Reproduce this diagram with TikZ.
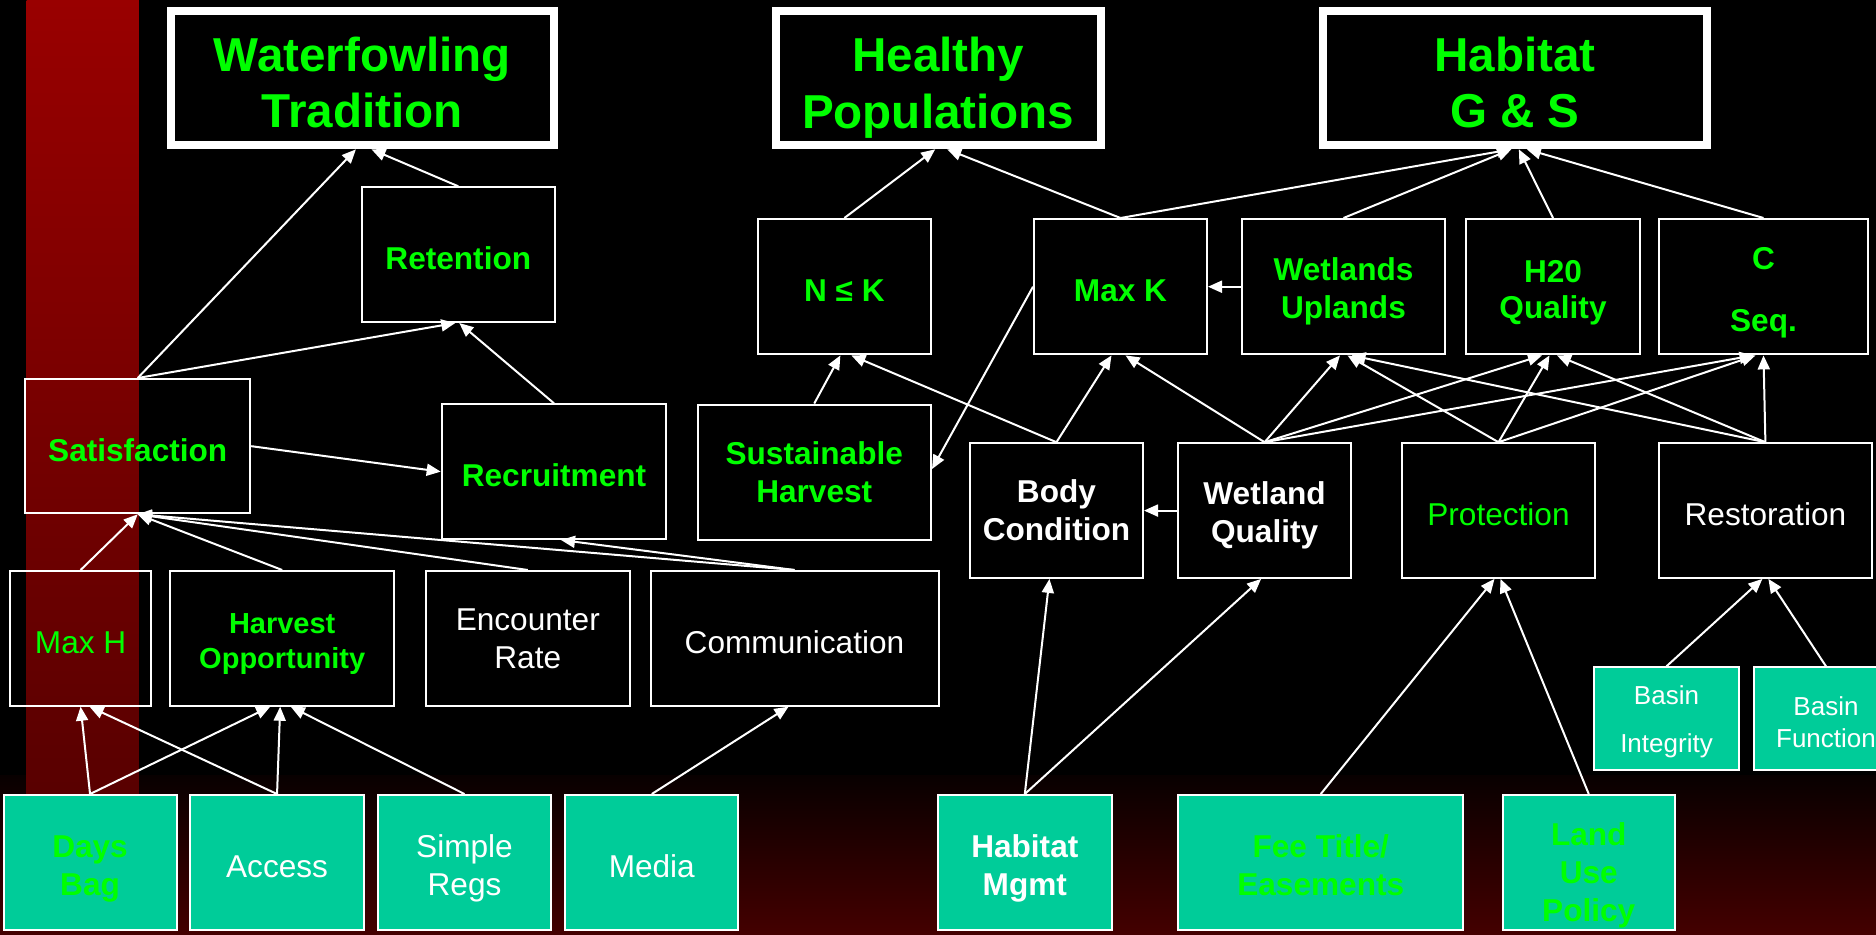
\documentclass[tikz,border=0pt]{standalone}
\usepackage{fontspec}
\setmainfont{Liberation Sans}
\usetikzlibrary{calc,arrows.meta}
\definecolor{grn}{HTML}{00FF00}
\definecolor{tealbox}{HTML}{00CC99}
\definecolor{stripetop}{HTML}{990000}
\definecolor{stripebot}{HTML}{580000}
\definecolor{bandtop}{HTML}{080000}
\definecolor{bandbot}{HTML}{440000}
\begin{document}
\begin{tikzpicture}[x=0.5pt,y=-0.5pt,
  corners/.style n args={4}{at={({(#1+#3)/2},{(#2+#4)/2})}, anchor=center,
    minimum width={(#3-#1)*0.5pt}, minimum height={(#4-#2)*0.5pt}},
  box/.style={draw=white, line width=1pt, inner sep=0pt, align=center},
  tbox/.style={box, fill=tealbox},
  ttl/.style={draw=white, line width=4pt, inner sep=0pt, align=center, text=grn,
    font=\fontsize{23.8}{28.3}\selectfont\bfseries},
  lift/.style={execute at begin node={\rule{0pt}{#1}}},
  gb/.style={text=grn, font=\fontsize{15.8}{19}\selectfont\bfseries, lift=15pt},
  gn/.style={text=grn, font=\fontsize{15.8}{19}\selectfont, lift=15pt},
  wb/.style={text=white, font=\fontsize{15.8}{19}\selectfont\bfseries, lift=15pt},
  wn/.style={text=white, font=\fontsize{15.8}{19}\selectfont, lift=15pt},
  arr/.style={draw=white, line width=1pt, -{Triangle[length=7pt,width=6pt]}},
]
% background
\fill[black] (0,0) rectangle (1876,934);
\useasboundingbox (0,0) rectangle (1876,934);
\shade[top color=bandtop, bottom color=bandbot] (0,775) rectangle (1876,934);
\shade[top color=stripetop, bottom color=stripebot] (26.5,0) rectangle (138.8,800);

% top goals
\node[ttl, corners={170.5}{10.7}{554.4}{145.3}] (wt) {\rule{0pt}{21.8pt}Waterfowling\\Tradition};
\node[ttl, corners={775.5}{10.9}{1100.9}{145.3}] (hp) {\rule{0pt}{26.8pt}Healthy\\Populations};
\node[ttl, corners={1323.2}{10.9}{1706.5}{145.3}] (hgs) {\rule{0pt}{21.8pt}Habitat\\G \& S};

% row 2
\node[box, gb, corners={361.6}{187.3}{555}{322}] (ret) {Retention};
\node[box, gb, corners={757.8}{219}{931}{354.4}] (nk) {N ≤ K};
\node[box, gb, corners={1034}{219}{1207}{354.4}] (maxk) {Max K};
\node[box, gb, corners={1242}{219}{1445}{354.4}] (wu) {\rule{0pt}{16.5pt}Wetlands\\Uplands};
\node[box, gb, font=\fontsize{15.8}{18}\selectfont\bfseries, corners={1466.4}{219}{1639.6}{354.4}] (h2o) {\rule{0pt}{17.5pt}H20\\Quality};
\node[box, gb, font=\fontsize{15.8}{31}\selectfont\bfseries, corners={1658.6}{219}{1868.4}{354.4}] (cseq) {\rule{0pt}{17pt}C\\Seq.};

% row 3
\node[box, gb, corners={25.3}{379}{250.2}{513.3}] (sat) {Satisfaction};
\node[box, gb, corners={441.7}{404.3}{666.3}{539}] (rec) {Recruitment};
\node[box, gb, corners={697.5}{404.5}{931}{539.6}] (sh) {Sustainable\\Harvest};
\node[box, wb, corners={969.9}{443.2}{1143}{577.9}] (bc) {Body\\Condition};
\node[box, wb, corners={1178}{443.2}{1351.2}{577.9}] (wq) {\rule{0pt}{16.5pt}Wetland\\Quality};
\node[box, gn, corners={1402.4}{443.2}{1594.6}{577.9}] (prot) {Protection};
\node[box, wn, corners={1658.6}{443.2}{1872.2}{577.9}] (rest) {Restoration};

% row 4
\node[box, gn, corners={10.2}{571}{151}{705.7}] (maxh) {Max H};
\node[box, text=grn, font=\fontsize{14.5}{17.5}\selectfont\bfseries, corners={170}{571}{394.4}{705.7}] (ho) {\rule{0pt}{16pt}Harvest\\Opportunity};
\node[box, wn, corners={426}{571}{629.6}{705.7}] (er) {Encounter\\Rate};
\node[box, wn, corners={650.5}{571}{938.5}{705.7}] (comm) {Communication};

% basin boxes
\node[tbox, text=white, font=\fontsize{13}{23.9}\selectfont, corners={1594}{667.3}{1739}{769.5}] (bi) {\rule{0pt}{13pt}Basin\\Integrity};
\node[tbox, text=white, font=\fontsize{13}{15.8}\selectfont, corners={1754}{667.3}{1898}{769.5}] (bf) {\rule{0pt}{13pt}Basin\\Function};

% bottom row
\node[tbox, gb, corners={3.6}{795}{176.5}{930}] (db) {\rule{0pt}{17pt}Days\\Bag};
\node[tbox, wn, corners={190.3}{795}{363.8}{930}] (acc) {Access};
\node[tbox, wn, corners={378}{795}{551}{930}] (sr) {\rule{0pt}{17pt}Simple\\Regs};
\node[tbox, wn, corners={565.3}{795}{738.3}{930}] (med) {Media};
\node[tbox, wb, corners={938}{795}{1111.6}{930}] (hm) {\rule{0pt}{17pt}Habitat\\Mgmt};
\node[tbox, gb, corners={1178.2}{795}{1463.3}{930}] (fee) {\rule{0pt}{14.5pt}Fee Title/\\Easements};
\node[tbox, gb, corners={1502.5}{795}{1675}{930}] (lup) {\rule{0pt}{24.5pt}Land\\Use\\Policy};

% arrows - left cluster
\draw[arr] (sat.north) -- ($(wt.south)+(-6.5,0)$);
\draw[arr] (ret.north) -- ($(wt.south)+(9,0)$);
\draw[arr] (sat.north) -- ($(ret.south)+(-3,0)$);
\draw[arr] (rec.north) -- ($(ret.south)+(1,0)$);
\draw[arr] (sat.east) -- (rec.west);
\draw[arr] (maxh.north) -- (sat.south);
\draw[arr] (ho.north) -- (sat.south);
\draw[arr] (er.north) -- (sat.south);
\draw[arr] (comm.north) -- (sat.south);
\draw[arr] (comm.north) -- ($(rec.south)+(7,0)$);
\draw[arr] (db.north) -- (maxh.south);
\draw[arr] (db.north) -- ($(ho.south)+(-12,0)$);
\draw[arr] (acc.north) -- ($(maxh.south)+(9,0)$);
\draw[arr] (acc.north) -- ($(ho.south)+(-2,0)$);
\draw[arr] (sr.north) -- ($(ho.south)+(8.6,0)$);
\draw[arr] (med.north) -- ($(comm.south)+(-6,0)$);

% arrows - populations / habitat
\draw[arr] (nk.north) -- ($(hp.south)+(-3,0)$);
\draw[arr] (maxk.north) -- ($(hp.south)+(9,0)$);
\draw[arr] (maxk.north) -- ($(hgs.south)+(-3.5,0)$);
\draw[arr] (wu.north) -- ($(hgs.south)+(-3.5,0)$);
\draw[arr] (h2o.north) -- ($(hgs.south)+(4,0)$);
\draw[arr] (cseq.north) -- ($(hgs.south)+(12,0)$);
\draw[arr] (wu.west) -- (maxk.east);
\draw[arr] (maxk.west) -- ($(sh.east)+(0,-3)$);
\draw[arr] (sh.north) -- ($(nk.south)+(-4,0)$);
\draw[arr] (bc.north) -- ($(nk.south)+(7,0)$);
\draw[arr] (bc.north) -- ($(maxk.south)+(-9,0)$);
\draw[arr] (wq.north) -- ($(maxk.south)+(5,0)$);
\draw[arr] (wq.north) -- ($(wu.south)+(-3.5,0)$);
\draw[arr] (wq.north) -- ($(h2o.south)+(-11,0)$);
\draw[arr] (wq.north) -- ($(cseq.south)+(-10,0)$);
\draw[arr] (prot.north) -- ($(wu.south)+(4,0)$);
\draw[arr] (prot.north) -- ($(h2o.south)+(-3.5,0)$);
\draw[arr] (prot.north) -- ($(cseq.south)+(-8,0)$);
\draw[arr] (rest.north) -- ($(wu.south)+(8,0)$);
\draw[arr] (rest.north) -- ($(h2o.south)+(4,0)$);
\draw[arr] (rest.north) -- (cseq.south);
\draw[arr] (wq.west) -- (bc.east);
\draw[arr] (hm.north) -- ($(bc.south)+(-7,0)$);
\draw[arr] (hm.north) -- ($(wq.south)+(-3.5,0)$);
\draw[arr] (fee.north) -- ($(prot.south)+(-4,0)$);
\draw[arr] (lup.north) -- ($(prot.south)+(2,0)$);
\draw[arr] (bi.north) -- ($(rest.south)+(-3,0)$);
\draw[arr] (bf.north) -- ($(rest.south)+(3,0)$);
\end{tikzpicture}
\end{document}
